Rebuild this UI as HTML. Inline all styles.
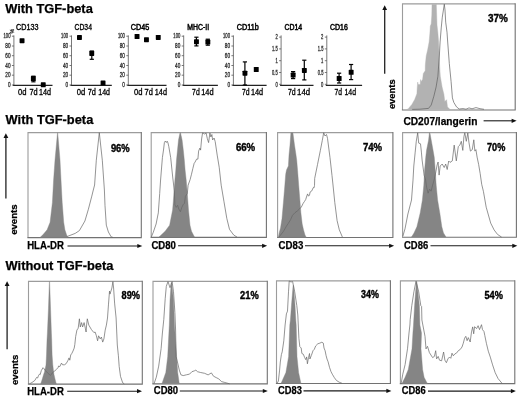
<!DOCTYPE html><html><head><meta charset="utf-8"><style>html,body{margin:0;padding:0;background:#fff;}svg{display:block;filter:grayscale(1) blur(0.3px);} text{font-family:"Liberation Sans", sans-serif;}</style></head><body>
<svg width="520" height="398" viewBox="0 0 520 398">
<rect width="520" height="398" fill="#fff"/>
<text x="5.2" y="12.6" font-size="12.90" font-weight="bold" text-anchor="start" fill="#000" stroke="#000" stroke-width="0.25" textLength="87.6" lengthAdjust="spacingAndGlyphs">With TGF-beta</text>
<text x="5.6" y="123.6" font-size="12.90" font-weight="bold" text-anchor="start" fill="#000" stroke="#000" stroke-width="0.25" textLength="87.7" lengthAdjust="spacingAndGlyphs">With TGF-beta</text>
<text x="5.6" y="270.3" font-size="12.90" font-weight="bold" text-anchor="start" fill="#000" stroke="#000" stroke-width="0.25" textLength="107.8" lengthAdjust="spacingAndGlyphs">Without TGF-beta</text>
<text x="16.0" y="30.4" font-size="8.20" font-weight="normal" text-anchor="start" fill="#000" stroke="#000" stroke-width="0.35" textLength="22.4" lengthAdjust="spacingAndGlyphs">CD133</text>
<line x1="13.9" y1="35.4" x2="13.9" y2="85.4" stroke="#6a6a6a" stroke-width="0.9"/>
<line x1="12.9" y1="85.4" x2="52.5" y2="85.4" stroke="#222" stroke-width="1.1"/>
<line x1="11.9" y1="36.2" x2="13.9" y2="36.2" stroke="#555" stroke-width="0.8"/>
<text x="10.5" y="38.4" font-size="6.30" font-weight="normal" text-anchor="end" fill="#3a3a3a" stroke="#3a3a3a" stroke-width="0.35" textLength="7.0" lengthAdjust="spacingAndGlyphs">100</text>
<line x1="11.9" y1="46.0" x2="13.9" y2="46.0" stroke="#555" stroke-width="0.8"/>
<text x="10.5" y="48.2" font-size="6.30" font-weight="normal" text-anchor="end" fill="#3a3a3a" stroke="#3a3a3a" stroke-width="0.35" textLength="5.2" lengthAdjust="spacingAndGlyphs">80</text>
<line x1="11.9" y1="55.7" x2="13.9" y2="55.7" stroke="#555" stroke-width="0.8"/>
<text x="10.5" y="57.9" font-size="6.30" font-weight="normal" text-anchor="end" fill="#3a3a3a" stroke="#3a3a3a" stroke-width="0.35" textLength="5.2" lengthAdjust="spacingAndGlyphs">60</text>
<line x1="11.9" y1="65.5" x2="13.9" y2="65.5" stroke="#555" stroke-width="0.8"/>
<text x="10.5" y="67.7" font-size="6.30" font-weight="normal" text-anchor="end" fill="#3a3a3a" stroke="#3a3a3a" stroke-width="0.35" textLength="5.2" lengthAdjust="spacingAndGlyphs">40</text>
<line x1="11.9" y1="75.2" x2="13.9" y2="75.2" stroke="#555" stroke-width="0.8"/>
<text x="10.5" y="77.4" font-size="6.30" font-weight="normal" text-anchor="end" fill="#3a3a3a" stroke="#3a3a3a" stroke-width="0.35" textLength="5.2" lengthAdjust="spacingAndGlyphs">20</text>
<line x1="11.9" y1="85.0" x2="13.9" y2="85.0" stroke="#555" stroke-width="0.8"/>
<text x="10.5" y="87.2" font-size="6.30" font-weight="normal" text-anchor="end" fill="#3a3a3a" stroke="#3a3a3a" stroke-width="0.35" textLength="2.6" lengthAdjust="spacingAndGlyphs">0</text>
<rect x="19.6" y="38.2" width="4.9" height="5.0" rx="0.6" fill="#000"/>
<line x1="33.4" y1="76.2" x2="33.4" y2="81.8" stroke="#000" stroke-width="1.2"/>
<line x1="31.3" y1="76.2" x2="35.5" y2="76.2" stroke="#000" stroke-width="1.2"/>
<line x1="31.3" y1="81.8" x2="35.5" y2="81.8" stroke="#000" stroke-width="1.2"/>
<rect x="30.9" y="76.1" width="4.9" height="5.0" rx="0.6" fill="#000"/>
<rect x="40.8" y="82.3" width="4.9" height="5.0" rx="0.6" fill="#000"/>
<text x="18.1" y="95.3" font-size="8.40" font-weight="normal" text-anchor="start" fill="#000" stroke="#000" stroke-width="0.30" textLength="8.5" lengthAdjust="spacingAndGlyphs">0d</text>
<text x="29.5" y="95.3" font-size="8.40" font-weight="normal" text-anchor="start" fill="#000" stroke="#000" stroke-width="0.30" textLength="8.2" lengthAdjust="spacingAndGlyphs">7d</text>
<text x="39.1" y="95.3" font-size="8.40" font-weight="normal" text-anchor="start" fill="#000" stroke="#000" stroke-width="0.30" textLength="12.0" lengthAdjust="spacingAndGlyphs">14d</text>
<text transform="translate(14.4,33.6) rotate(-90)" font-size="5.2" fill="#333" stroke="#333" stroke-width="0.3">%</text>
<text x="74.6" y="30.4" font-size="8.20" font-weight="normal" text-anchor="start" fill="#000" stroke="#000" stroke-width="0.35" textLength="17.3" lengthAdjust="spacingAndGlyphs">CD34</text>
<line x1="71.5" y1="35.4" x2="71.5" y2="85.4" stroke="#6a6a6a" stroke-width="0.9"/>
<line x1="70.5" y1="85.4" x2="111.8" y2="85.4" stroke="#222" stroke-width="1.1"/>
<line x1="69.5" y1="36.2" x2="71.5" y2="36.2" stroke="#555" stroke-width="0.8"/>
<text x="68.1" y="38.4" font-size="6.30" font-weight="normal" text-anchor="end" fill="#3a3a3a" stroke="#3a3a3a" stroke-width="0.35" textLength="7.0" lengthAdjust="spacingAndGlyphs">100</text>
<line x1="69.5" y1="46.0" x2="71.5" y2="46.0" stroke="#555" stroke-width="0.8"/>
<text x="68.1" y="48.2" font-size="6.30" font-weight="normal" text-anchor="end" fill="#3a3a3a" stroke="#3a3a3a" stroke-width="0.35" textLength="5.2" lengthAdjust="spacingAndGlyphs">80</text>
<line x1="69.5" y1="55.7" x2="71.5" y2="55.7" stroke="#555" stroke-width="0.8"/>
<text x="68.1" y="57.9" font-size="6.30" font-weight="normal" text-anchor="end" fill="#3a3a3a" stroke="#3a3a3a" stroke-width="0.35" textLength="5.2" lengthAdjust="spacingAndGlyphs">60</text>
<line x1="69.5" y1="65.5" x2="71.5" y2="65.5" stroke="#555" stroke-width="0.8"/>
<text x="68.1" y="67.7" font-size="6.30" font-weight="normal" text-anchor="end" fill="#3a3a3a" stroke="#3a3a3a" stroke-width="0.35" textLength="5.2" lengthAdjust="spacingAndGlyphs">40</text>
<line x1="69.5" y1="75.2" x2="71.5" y2="75.2" stroke="#555" stroke-width="0.8"/>
<text x="68.1" y="77.4" font-size="6.30" font-weight="normal" text-anchor="end" fill="#3a3a3a" stroke="#3a3a3a" stroke-width="0.35" textLength="5.2" lengthAdjust="spacingAndGlyphs">20</text>
<line x1="69.5" y1="85.0" x2="71.5" y2="85.0" stroke="#555" stroke-width="0.8"/>
<text x="68.1" y="87.2" font-size="6.30" font-weight="normal" text-anchor="end" fill="#3a3a3a" stroke="#3a3a3a" stroke-width="0.35" textLength="2.6" lengthAdjust="spacingAndGlyphs">0</text>
<rect x="77.0" y="34.9" width="4.9" height="5.0" rx="0.6" fill="#000"/>
<line x1="91.8" y1="51.0" x2="91.8" y2="59.3" stroke="#000" stroke-width="1.2"/>
<line x1="89.7" y1="51.0" x2="93.9" y2="51.0" stroke="#000" stroke-width="1.2"/>
<line x1="89.7" y1="59.3" x2="93.9" y2="59.3" stroke="#000" stroke-width="1.2"/>
<rect x="89.3" y="50.9" width="4.9" height="5.0" rx="0.6" fill="#000"/>
<rect x="100.6" y="80.5" width="4.9" height="5.0" rx="0.6" fill="#000"/>
<text x="76.7" y="95.3" font-size="8.40" font-weight="normal" text-anchor="start" fill="#000" stroke="#000" stroke-width="0.30" textLength="8.5" lengthAdjust="spacingAndGlyphs">0d</text>
<text x="87.7" y="95.3" font-size="8.40" font-weight="normal" text-anchor="start" fill="#000" stroke="#000" stroke-width="0.30" textLength="8.2" lengthAdjust="spacingAndGlyphs">7d</text>
<text x="98.3" y="95.3" font-size="8.40" font-weight="normal" text-anchor="start" fill="#000" stroke="#000" stroke-width="0.30" textLength="11.7" lengthAdjust="spacingAndGlyphs">14d</text>
<text x="130.7" y="30.4" font-size="8.20" font-weight="normal" text-anchor="start" fill="#000" stroke="#000" stroke-width="0.50" textLength="18.5" lengthAdjust="spacingAndGlyphs">CD45</text>
<line x1="128.3" y1="35.4" x2="128.3" y2="85.4" stroke="#6a6a6a" stroke-width="0.9"/>
<line x1="127.3" y1="85.4" x2="166.5" y2="85.4" stroke="#222" stroke-width="1.1"/>
<line x1="126.3" y1="36.2" x2="128.3" y2="36.2" stroke="#555" stroke-width="0.8"/>
<text x="124.9" y="38.4" font-size="6.30" font-weight="normal" text-anchor="end" fill="#3a3a3a" stroke="#3a3a3a" stroke-width="0.35" textLength="7.0" lengthAdjust="spacingAndGlyphs">100</text>
<line x1="126.3" y1="46.0" x2="128.3" y2="46.0" stroke="#555" stroke-width="0.8"/>
<text x="124.9" y="48.2" font-size="6.30" font-weight="normal" text-anchor="end" fill="#3a3a3a" stroke="#3a3a3a" stroke-width="0.35" textLength="5.2" lengthAdjust="spacingAndGlyphs">80</text>
<line x1="126.3" y1="55.7" x2="128.3" y2="55.7" stroke="#555" stroke-width="0.8"/>
<text x="124.9" y="57.9" font-size="6.30" font-weight="normal" text-anchor="end" fill="#3a3a3a" stroke="#3a3a3a" stroke-width="0.35" textLength="5.2" lengthAdjust="spacingAndGlyphs">60</text>
<line x1="126.3" y1="65.5" x2="128.3" y2="65.5" stroke="#555" stroke-width="0.8"/>
<text x="124.9" y="67.7" font-size="6.30" font-weight="normal" text-anchor="end" fill="#3a3a3a" stroke="#3a3a3a" stroke-width="0.35" textLength="5.2" lengthAdjust="spacingAndGlyphs">40</text>
<line x1="126.3" y1="75.2" x2="128.3" y2="75.2" stroke="#555" stroke-width="0.8"/>
<text x="124.9" y="77.4" font-size="6.30" font-weight="normal" text-anchor="end" fill="#3a3a3a" stroke="#3a3a3a" stroke-width="0.35" textLength="5.2" lengthAdjust="spacingAndGlyphs">20</text>
<line x1="126.3" y1="85.0" x2="128.3" y2="85.0" stroke="#555" stroke-width="0.8"/>
<text x="124.9" y="87.2" font-size="6.30" font-weight="normal" text-anchor="end" fill="#3a3a3a" stroke="#3a3a3a" stroke-width="0.35" textLength="2.6" lengthAdjust="spacingAndGlyphs">0</text>
<rect x="134.6" y="34.0" width="4.9" height="5.0" rx="0.6" fill="#000"/>
<rect x="144.0" y="37.2" width="4.9" height="5.0" rx="0.6" fill="#000"/>
<rect x="155.8" y="34.9" width="4.9" height="5.0" rx="0.6" fill="#000"/>
<text x="134.0" y="95.3" font-size="8.40" font-weight="normal" text-anchor="start" fill="#000" stroke="#000" stroke-width="0.30" textLength="8.5" lengthAdjust="spacingAndGlyphs">0d</text>
<text x="144.6" y="95.3" font-size="8.40" font-weight="normal" text-anchor="start" fill="#000" stroke="#000" stroke-width="0.30" textLength="8.3" lengthAdjust="spacingAndGlyphs">7d</text>
<text x="154.8" y="95.3" font-size="8.40" font-weight="normal" text-anchor="start" fill="#000" stroke="#000" stroke-width="0.30" textLength="12.2" lengthAdjust="spacingAndGlyphs">14d</text>
<text x="187.3" y="30.4" font-size="8.20" font-weight="normal" text-anchor="start" fill="#000" stroke="#000" stroke-width="0.50" textLength="21.8" lengthAdjust="spacingAndGlyphs">MHC-II</text>
<line x1="183.7" y1="35.4" x2="183.7" y2="85.4" stroke="#6a6a6a" stroke-width="0.9"/>
<line x1="182.7" y1="85.4" x2="217.9" y2="85.4" stroke="#222" stroke-width="1.1"/>
<line x1="181.7" y1="36.2" x2="183.7" y2="36.2" stroke="#555" stroke-width="0.8"/>
<text x="180.3" y="38.4" font-size="6.30" font-weight="normal" text-anchor="end" fill="#3a3a3a" stroke="#3a3a3a" stroke-width="0.35" textLength="7.0" lengthAdjust="spacingAndGlyphs">100</text>
<line x1="181.7" y1="46.0" x2="183.7" y2="46.0" stroke="#555" stroke-width="0.8"/>
<text x="180.3" y="48.2" font-size="6.30" font-weight="normal" text-anchor="end" fill="#3a3a3a" stroke="#3a3a3a" stroke-width="0.35" textLength="5.2" lengthAdjust="spacingAndGlyphs">80</text>
<line x1="181.7" y1="55.7" x2="183.7" y2="55.7" stroke="#555" stroke-width="0.8"/>
<text x="180.3" y="57.9" font-size="6.30" font-weight="normal" text-anchor="end" fill="#3a3a3a" stroke="#3a3a3a" stroke-width="0.35" textLength="5.2" lengthAdjust="spacingAndGlyphs">60</text>
<line x1="181.7" y1="65.5" x2="183.7" y2="65.5" stroke="#555" stroke-width="0.8"/>
<text x="180.3" y="67.7" font-size="6.30" font-weight="normal" text-anchor="end" fill="#3a3a3a" stroke="#3a3a3a" stroke-width="0.35" textLength="5.2" lengthAdjust="spacingAndGlyphs">40</text>
<line x1="181.7" y1="75.2" x2="183.7" y2="75.2" stroke="#555" stroke-width="0.8"/>
<text x="180.3" y="77.4" font-size="6.30" font-weight="normal" text-anchor="end" fill="#3a3a3a" stroke="#3a3a3a" stroke-width="0.35" textLength="5.2" lengthAdjust="spacingAndGlyphs">20</text>
<line x1="181.7" y1="85.0" x2="183.7" y2="85.0" stroke="#555" stroke-width="0.8"/>
<text x="180.3" y="87.2" font-size="6.30" font-weight="normal" text-anchor="end" fill="#3a3a3a" stroke="#3a3a3a" stroke-width="0.35" textLength="2.6" lengthAdjust="spacingAndGlyphs">0</text>
<line x1="196.4" y1="37.2" x2="196.4" y2="45.9" stroke="#000" stroke-width="1.2"/>
<line x1="194.3" y1="37.2" x2="198.5" y2="37.2" stroke="#000" stroke-width="1.2"/>
<line x1="194.3" y1="45.9" x2="198.5" y2="45.9" stroke="#000" stroke-width="1.2"/>
<rect x="194.0" y="39.2" width="4.9" height="5.0" rx="0.6" fill="#000"/>
<line x1="207.8" y1="39.2" x2="207.8" y2="45.2" stroke="#000" stroke-width="1.2"/>
<line x1="205.7" y1="39.2" x2="209.9" y2="39.2" stroke="#000" stroke-width="1.2"/>
<line x1="205.7" y1="45.2" x2="209.9" y2="45.2" stroke="#000" stroke-width="1.2"/>
<rect x="205.4" y="39.6" width="4.9" height="5.0" rx="0.6" fill="#000"/>
<text x="192.1" y="95.3" font-size="8.40" font-weight="normal" text-anchor="start" fill="#000" stroke="#000" stroke-width="0.30" textLength="7.6" lengthAdjust="spacingAndGlyphs">7d</text>
<text x="201.2" y="95.3" font-size="8.40" font-weight="normal" text-anchor="start" fill="#000" stroke="#000" stroke-width="0.30" textLength="12.4" lengthAdjust="spacingAndGlyphs">14d</text>
<text x="236.7" y="30.4" font-size="8.20" font-weight="normal" text-anchor="start" fill="#000" stroke="#000" stroke-width="0.50" textLength="22.0" lengthAdjust="spacingAndGlyphs">CD11b</text>
<line x1="233.4" y1="35.4" x2="233.4" y2="85.4" stroke="#6a6a6a" stroke-width="0.9"/>
<line x1="232.4" y1="85.4" x2="266.6" y2="85.4" stroke="#222" stroke-width="1.1"/>
<line x1="231.4" y1="36.2" x2="233.4" y2="36.2" stroke="#555" stroke-width="0.8"/>
<text x="230.0" y="38.4" font-size="6.30" font-weight="normal" text-anchor="end" fill="#3a3a3a" stroke="#3a3a3a" stroke-width="0.35" textLength="7.0" lengthAdjust="spacingAndGlyphs">100</text>
<line x1="231.4" y1="46.0" x2="233.4" y2="46.0" stroke="#555" stroke-width="0.8"/>
<text x="230.0" y="48.2" font-size="6.30" font-weight="normal" text-anchor="end" fill="#3a3a3a" stroke="#3a3a3a" stroke-width="0.35" textLength="5.2" lengthAdjust="spacingAndGlyphs">80</text>
<line x1="231.4" y1="55.7" x2="233.4" y2="55.7" stroke="#555" stroke-width="0.8"/>
<text x="230.0" y="57.9" font-size="6.30" font-weight="normal" text-anchor="end" fill="#3a3a3a" stroke="#3a3a3a" stroke-width="0.35" textLength="5.2" lengthAdjust="spacingAndGlyphs">60</text>
<line x1="231.4" y1="65.5" x2="233.4" y2="65.5" stroke="#555" stroke-width="0.8"/>
<text x="230.0" y="67.7" font-size="6.30" font-weight="normal" text-anchor="end" fill="#3a3a3a" stroke="#3a3a3a" stroke-width="0.35" textLength="5.2" lengthAdjust="spacingAndGlyphs">40</text>
<line x1="231.4" y1="75.2" x2="233.4" y2="75.2" stroke="#555" stroke-width="0.8"/>
<text x="230.0" y="77.4" font-size="6.30" font-weight="normal" text-anchor="end" fill="#3a3a3a" stroke="#3a3a3a" stroke-width="0.35" textLength="5.2" lengthAdjust="spacingAndGlyphs">20</text>
<line x1="231.4" y1="85.0" x2="233.4" y2="85.0" stroke="#555" stroke-width="0.8"/>
<text x="230.0" y="87.2" font-size="6.30" font-weight="normal" text-anchor="end" fill="#3a3a3a" stroke="#3a3a3a" stroke-width="0.35" textLength="2.6" lengthAdjust="spacingAndGlyphs">0</text>
<line x1="244.9" y1="61.9" x2="244.9" y2="85.0" stroke="#000" stroke-width="1.2"/>
<line x1="242.8" y1="61.9" x2="247.0" y2="61.9" stroke="#000" stroke-width="1.2"/>
<line x1="242.8" y1="85.0" x2="247.0" y2="85.0" stroke="#000" stroke-width="1.2"/>
<rect x="242.5" y="70.7" width="4.9" height="5.0" rx="0.6" fill="#000"/>
<rect x="253.8" y="67.0" width="4.9" height="5.0" rx="0.6" fill="#000"/>
<text x="242.0" y="95.3" font-size="8.40" font-weight="normal" text-anchor="start" fill="#000" stroke="#000" stroke-width="0.30" textLength="7.6" lengthAdjust="spacingAndGlyphs">7d</text>
<text x="250.9" y="95.3" font-size="8.40" font-weight="normal" text-anchor="start" fill="#000" stroke="#000" stroke-width="0.30" textLength="12.2" lengthAdjust="spacingAndGlyphs">14d</text>
<text x="284.5" y="30.4" font-size="8.20" font-weight="normal" text-anchor="start" fill="#000" stroke="#000" stroke-width="0.50" textLength="17.7" lengthAdjust="spacingAndGlyphs">CD14</text>
<line x1="281.1" y1="35.4" x2="281.1" y2="85.4" stroke="#6a6a6a" stroke-width="0.9"/>
<line x1="280.1" y1="85.4" x2="313.5" y2="85.4" stroke="#222" stroke-width="1.1"/>
<line x1="279.1" y1="37.1" x2="281.1" y2="37.1" stroke="#555" stroke-width="0.8"/>
<text x="277.7" y="39.3" font-size="6.30" font-weight="normal" text-anchor="end" fill="#3a3a3a" stroke="#3a3a3a" stroke-width="0.35" textLength="2.3" lengthAdjust="spacingAndGlyphs">2</text>
<line x1="279.1" y1="48.9" x2="281.1" y2="48.9" stroke="#555" stroke-width="0.8"/>
<text x="277.7" y="51.1" font-size="6.30" font-weight="normal" text-anchor="end" fill="#3a3a3a" stroke="#3a3a3a" stroke-width="0.35" textLength="5.6" lengthAdjust="spacingAndGlyphs">1.5</text>
<line x1="279.1" y1="60.7" x2="281.1" y2="60.7" stroke="#555" stroke-width="0.8"/>
<text x="277.7" y="62.9" font-size="6.30" font-weight="normal" text-anchor="end" fill="#3a3a3a" stroke="#3a3a3a" stroke-width="0.35" textLength="2.3" lengthAdjust="spacingAndGlyphs">1</text>
<line x1="279.1" y1="72.5" x2="281.1" y2="72.5" stroke="#555" stroke-width="0.8"/>
<text x="277.7" y="74.7" font-size="6.30" font-weight="normal" text-anchor="end" fill="#3a3a3a" stroke="#3a3a3a" stroke-width="0.35" textLength="5.6" lengthAdjust="spacingAndGlyphs">0.5</text>
<line x1="279.1" y1="84.3" x2="281.1" y2="84.3" stroke="#555" stroke-width="0.8"/>
<text x="277.7" y="86.5" font-size="6.30" font-weight="normal" text-anchor="end" fill="#3a3a3a" stroke="#3a3a3a" stroke-width="0.35" textLength="2.3" lengthAdjust="spacingAndGlyphs">0</text>
<line x1="293.1" y1="71.6" x2="293.1" y2="78.6" stroke="#000" stroke-width="1.2"/>
<line x1="291.0" y1="71.6" x2="295.2" y2="71.6" stroke="#000" stroke-width="1.2"/>
<line x1="291.0" y1="78.6" x2="295.2" y2="78.6" stroke="#000" stroke-width="1.2"/>
<rect x="290.7" y="72.6" width="4.9" height="5.0" rx="0.6" fill="#000"/>
<line x1="304.3" y1="60.2" x2="304.3" y2="79.9" stroke="#000" stroke-width="1.2"/>
<line x1="302.2" y1="60.2" x2="306.4" y2="60.2" stroke="#000" stroke-width="1.2"/>
<line x1="302.2" y1="79.9" x2="306.4" y2="79.9" stroke="#000" stroke-width="1.2"/>
<rect x="301.9" y="67.9" width="4.9" height="5.0" rx="0.6" fill="#000"/>
<text x="288.0" y="95.3" font-size="8.40" font-weight="normal" text-anchor="start" fill="#000" stroke="#000" stroke-width="0.30" textLength="7.7" lengthAdjust="spacingAndGlyphs">7d</text>
<text x="297.1" y="95.3" font-size="8.40" font-weight="normal" text-anchor="start" fill="#000" stroke="#000" stroke-width="0.30" textLength="13.0" lengthAdjust="spacingAndGlyphs">14d</text>
<text x="330.1" y="30.4" font-size="8.20" font-weight="normal" text-anchor="start" fill="#000" stroke="#000" stroke-width="0.50" textLength="17.7" lengthAdjust="spacingAndGlyphs">CD16</text>
<line x1="326.8" y1="35.4" x2="326.8" y2="85.4" stroke="#6a6a6a" stroke-width="0.9"/>
<line x1="325.8" y1="85.4" x2="362.1" y2="85.4" stroke="#222" stroke-width="1.1"/>
<line x1="324.8" y1="37.1" x2="326.8" y2="37.1" stroke="#555" stroke-width="0.8"/>
<text x="323.4" y="39.3" font-size="6.30" font-weight="normal" text-anchor="end" fill="#3a3a3a" stroke="#3a3a3a" stroke-width="0.35" textLength="2.3" lengthAdjust="spacingAndGlyphs">2</text>
<line x1="324.8" y1="48.9" x2="326.8" y2="48.9" stroke="#555" stroke-width="0.8"/>
<text x="323.4" y="51.1" font-size="6.30" font-weight="normal" text-anchor="end" fill="#3a3a3a" stroke="#3a3a3a" stroke-width="0.35" textLength="5.6" lengthAdjust="spacingAndGlyphs">1.5</text>
<line x1="324.8" y1="60.7" x2="326.8" y2="60.7" stroke="#555" stroke-width="0.8"/>
<text x="323.4" y="62.9" font-size="6.30" font-weight="normal" text-anchor="end" fill="#3a3a3a" stroke="#3a3a3a" stroke-width="0.35" textLength="2.3" lengthAdjust="spacingAndGlyphs">1</text>
<line x1="324.8" y1="72.5" x2="326.8" y2="72.5" stroke="#555" stroke-width="0.8"/>
<text x="323.4" y="74.7" font-size="6.30" font-weight="normal" text-anchor="end" fill="#3a3a3a" stroke="#3a3a3a" stroke-width="0.35" textLength="5.6" lengthAdjust="spacingAndGlyphs">0.5</text>
<line x1="324.8" y1="84.3" x2="326.8" y2="84.3" stroke="#555" stroke-width="0.8"/>
<text x="323.4" y="86.5" font-size="6.30" font-weight="normal" text-anchor="end" fill="#3a3a3a" stroke="#3a3a3a" stroke-width="0.35" textLength="2.3" lengthAdjust="spacingAndGlyphs">0</text>
<line x1="339.1" y1="73.2" x2="339.1" y2="83.0" stroke="#000" stroke-width="1.2"/>
<line x1="337.0" y1="73.2" x2="341.2" y2="73.2" stroke="#000" stroke-width="1.2"/>
<line x1="337.0" y1="83.0" x2="341.2" y2="83.0" stroke="#000" stroke-width="1.2"/>
<rect x="336.7" y="76.0" width="4.9" height="5.0" rx="0.6" fill="#000"/>
<line x1="351.1" y1="64.5" x2="351.1" y2="79.6" stroke="#000" stroke-width="1.2"/>
<line x1="349.0" y1="64.5" x2="353.2" y2="64.5" stroke="#000" stroke-width="1.2"/>
<line x1="349.0" y1="79.6" x2="353.2" y2="79.6" stroke="#000" stroke-width="1.2"/>
<rect x="348.7" y="69.8" width="4.9" height="5.0" rx="0.6" fill="#000"/>
<text x="334.4" y="95.3" font-size="8.40" font-weight="normal" text-anchor="start" fill="#000" stroke="#000" stroke-width="0.30" textLength="7.5" lengthAdjust="spacingAndGlyphs">7d</text>
<text x="344.5" y="95.3" font-size="8.40" font-weight="normal" text-anchor="start" fill="#000" stroke="#000" stroke-width="0.30" textLength="11.6" lengthAdjust="spacingAndGlyphs">14d</text>
<line x1="384.7" y1="8.3" x2="384.7" y2="73.8" stroke="#222" stroke-width="1.3"/>
<polygon points="382.3,9.9 384.7,5.3 387.1,9.9" fill="#111"/>
<text transform="translate(394.8,109.1) rotate(-90)" font-size="9.8" font-weight="bold" stroke="#000" stroke-width="0.25" textLength="29.7" lengthAdjust="spacingAndGlyphs">events</text>
<path d="M402.5 110.0V3.9H515.2" fill="none" stroke="#9c9c9c" stroke-width="1.1"/>
<path d="M515.2 3.3V110.0H401.9" fill="none" stroke="#727272" stroke-width="1.1"/>
<polygon points="432.0,4.2 431.8,15.0 431.2,24.0 430.3,26.0 429.9,33.0 429.1,42.0 427.6,50.0 426.2,56.0 425.3,65.0 425.2,70.8 423.3,73.6 422.6,79.4 421.2,81.5 420.6,79.5 420.2,84.5 418.3,84.5 417.7,82.0 417.2,88.0 416.9,93.7 414.7,99.4 411.9,104.4 408.3,108.7 406.8,109.6 450.2,109.6 447.5,106.9 446.6,99.7 444.8,101.5 443.9,94.2 442.1,87.0 440.3,76.2 439.4,61.7 438.6,42.0 437.8,32.0 437.0,25.0 436.6,12.0 436.3,4.2" fill="#b2b2b2" stroke="#b2b2b2" stroke-width="0.4"/>
<polyline points="412.2,109.4 420.0,109.2 428.5,108.4 431.2,105.1 433.9,96.1 436.1,87.0 437.9,76.2 439.4,55.0 440.1,42.0 441.3,27.1 442.3,17.1 443.1,12.0 444.3,4.2 445.0,10.0 445.7,22.1 447.0,32.2 447.7,42.0 449.3,63.5 451.1,81.6 452.4,97.9 453.8,102.4 456.5,106.9 459.2,109.0 463.0,108.6 466.0,109.2 469.0,107.9 472.0,108.8 476.0,107.6 480.0,108.7 484.0,109.3" fill="none" stroke="#606060" stroke-width="0.70" stroke-linejoin="round"/>
<text x="488.0" y="22.3" font-size="10.60" font-weight="bold" text-anchor="start" fill="#000" stroke="#000" stroke-width="0.40" textLength="19.8" lengthAdjust="spacingAndGlyphs">37%</text>
<text x="403.4" y="124.6" font-size="10.20" font-weight="bold" text-anchor="start" fill="#000" stroke="#000" stroke-width="0.25" textLength="74.0" lengthAdjust="spacingAndGlyphs">CD207/langerin</text>
<line x1="483.6" y1="120.8" x2="512.6" y2="120.8" stroke="#1a1a1a" stroke-width="1.1"/>
<polygon points="511.6,118.7 516.6,120.8 511.6,122.9" fill="#111"/>
<line x1="5.9" y1="136.3" x2="5.9" y2="198.6" stroke="#222" stroke-width="1.3"/>
<polygon points="3.5,137.9 5.9,133.3 8.3,137.9" fill="#111"/>
<text transform="translate(17.3,234.8) rotate(-90)" font-size="9.8" font-weight="bold" stroke="#000" stroke-width="0.25" textLength="30.4" lengthAdjust="spacingAndGlyphs">events</text>
<path d="M28.0 237.6V132.6H141.3" fill="none" stroke="#9c9c9c" stroke-width="1.1"/>
<path d="M141.3 132.0V237.6H27.4" fill="none" stroke="#727272" stroke-width="1.1"/>
<polygon points="57.5,132.8 55.0,160.0 53.6,180.0 52.4,202.6 50.1,222.2 47.1,229.8 43.3,234.3 40.3,237.3 67.5,237.3 66.4,234.3 64.9,229.8 63.7,222.2 62.2,202.6 61.0,180.0 60.0,160.0 57.7,132.8" fill="#858585" stroke="#858585" stroke-width="0.4"/>
<polyline points="66.9,236.6 75.2,233.4 79.4,230.6 84.9,221.0 88.4,209.2 91.8,196.1 93.3,190.0 94.6,185.0 96.3,160.2 99.3,132.7 102.3,160.2 104.4,190.0 105.0,205.7 106.3,225.1 108.4,232.0 111.2,236.9 113.0,237.4" fill="none" stroke="#666666" stroke-width="0.70" stroke-linejoin="round"/>
<text x="110.9" y="151.5" font-size="10.20" font-weight="bold" text-anchor="start" fill="#000" stroke="#000" stroke-width="0.40" textLength="18.8" lengthAdjust="spacingAndGlyphs">96%</text>
<text x="27.2" y="249.3" font-size="10.40" font-weight="bold" text-anchor="start" fill="#000" stroke="#000" stroke-width="0.25" textLength="36.8" lengthAdjust="spacingAndGlyphs">HLA-DR</text>
<line x1="67.5" y1="246.0" x2="138.3" y2="246.0" stroke="#1a1a1a" stroke-width="1.1"/>
<polygon points="137.3,243.9 142.3,246.0 137.3,248.1" fill="#111"/>
<path d="M151.2 237.4V132.6H266.4" fill="none" stroke="#9c9c9c" stroke-width="1.1"/>
<path d="M266.4 132.0V237.4H150.6" fill="none" stroke="#727272" stroke-width="1.1"/>
<polygon points="180.0,132.8 178.5,140.0 177.5,150.0 176.5,160.0 175.8,170.0 174.9,180.0 173.8,195.0 172.6,210.0 169.6,225.2 165.1,231.3 159.0,237.1 194.5,237.1 191.5,231.3 190.0,225.2 188.5,210.0 187.4,195.0 186.2,180.0 185.1,170.0 184.3,160.0 183.3,150.0 182.1,140.0 180.5,132.8" fill="#858585" stroke="#858585" stroke-width="0.4"/>
<polyline points="151.4,236.8 153.3,232.2 156.1,224.0 158.3,212.9 159.7,193.6 160.5,181.0 162.4,157.6 163.5,150.0 164.4,142.5 165.3,141.0 166.3,142.5 167.2,141.2 168.0,143.0 168.8,146.6 170.7,157.6 172.7,177.0 174.3,190.8 174.9,204.6 176.2,207.4 177.6,205.3 178.8,209.0 180.4,211.7 181.8,207.4 183.2,204.6 184.5,203.2 185.4,196.3 187.3,193.6 188.1,185.2 190.1,179.7 191.5,174.2 192.8,168.7 194.2,163.2 195.0,162.2 196.6,159.1 197.9,159.1 198.6,151.1 199.9,148.1 200.6,150.1 201.6,139.0 202.6,132.8 204.6,134.0 206.1,133.0 207.3,138.5 208.6,142.6 209.9,133.0 210.9,137.0 211.9,134.5 212.6,140.0 214.1,138.0 215.2,141.6 217.2,155.1 219.2,167.2 221.2,185.2 224.0,201.8 226.8,218.4 229.5,229.4 233.7,235.0 237.0,237.1" fill="none" stroke="#666666" stroke-width="0.70" stroke-linejoin="round"/>
<text x="235.9" y="151.0" font-size="10.20" font-weight="bold" text-anchor="start" fill="#000" stroke="#000" stroke-width="0.40" textLength="19.3" lengthAdjust="spacingAndGlyphs">66%</text>
<text x="151.4" y="249.0" font-size="10.40" font-weight="bold" text-anchor="start" fill="#000" stroke="#000" stroke-width="0.25" textLength="24.5" lengthAdjust="spacingAndGlyphs">CD80</text>
<line x1="178.1" y1="245.8" x2="263.1" y2="245.8" stroke="#1a1a1a" stroke-width="1.1"/>
<polygon points="262.1,243.7 267.1,245.8 262.1,247.9" fill="#111"/>
<path d="M277.6 237.5V132.6H392.9" fill="none" stroke="#9c9c9c" stroke-width="1.1"/>
<path d="M392.9 132.0V237.5H277.1" fill="none" stroke="#727272" stroke-width="1.1"/>
<polygon points="290.9,132.8 290.0,145.0 289.0,155.0 288.4,165.9 286.5,170.0 285.7,174.2 284.7,187.0 283.7,199.0 282.0,218.4 280.5,228.0 279.3,232.2 278.3,237.2 306.2,237.2 305.0,235.0 303.5,229.8 302.2,224.0 300.9,212.9 299.8,199.0 298.7,185.2 297.7,172.0 296.7,160.0 296.0,155.0 294.5,145.0 292.9,132.8" fill="#858585" stroke="#858585" stroke-width="0.4"/>
<polyline points="279.0,237.0 283.5,231.3 286.5,226.0 288.1,223.7 290.6,219.7 292.5,215.3 295.0,212.7 297.5,210.8 299.4,209.0 301.3,207.1 303.2,203.3 304.5,201.4 305.7,199.5 306.8,196.0 307.6,193.9 308.5,196.2 309.5,195.1 310.1,192.0 311.8,190.9 312.6,189.0 313.3,187.6 314.0,187.9 314.5,185.5 314.7,178.4 317.5,164.6 320.3,150.7 322.3,140.4 323.7,132.8 325.0,136.0 326.5,134.5 327.5,138.3 330.0,157.7 332.0,175.6 333.0,185.0 334.8,202.6 337.1,220.7 339.3,229.8 342.4,237.1" fill="none" stroke="#666666" stroke-width="0.70" stroke-linejoin="round"/>
<text x="362.9" y="150.6" font-size="10.20" font-weight="bold" text-anchor="start" fill="#000" stroke="#000" stroke-width="0.40" textLength="19.1" lengthAdjust="spacingAndGlyphs">74%</text>
<text x="278.6" y="249.0" font-size="10.40" font-weight="bold" text-anchor="start" fill="#000" stroke="#000" stroke-width="0.25" textLength="24.7" lengthAdjust="spacingAndGlyphs">CD83</text>
<line x1="305.0" y1="245.8" x2="390.1" y2="245.8" stroke="#1a1a1a" stroke-width="1.1"/>
<polygon points="389.1,243.7 394.1,245.8 389.1,247.9" fill="#111"/>
<path d="M402.6 237.3V132.6H516.4" fill="none" stroke="#9c9c9c" stroke-width="1.1"/>
<path d="M516.4 132.0V237.3H402.1" fill="none" stroke="#727272" stroke-width="1.1"/>
<polygon points="429.4,132.8 428.6,140.0 426.6,150.0 425.7,157.6 424.6,170.0 423.8,185.2 422.4,200.0 420.2,212.9 416.9,226.7 414.0,233.0 411.5,237.1 446.0,237.1 443.5,233.0 441.8,226.7 439.8,212.9 437.6,200.0 436.2,185.2 435.2,170.0 434.3,157.6 433.0,150.0 431.2,140.0 429.9,132.8" fill="#858585" stroke="#858585" stroke-width="0.4"/>
<polyline points="402.9,236.0 405.0,228.8 407.9,214.0 411.5,200.0 413.0,180.1 413.8,166.0 415.2,152.1 416.3,141.1 417.7,132.8 418.7,143.1 420.5,143.8 421.4,152.1 422.1,160.0 424.1,175.1 425.6,180.1 426.6,187.1 428.1,193.2 429.6,189.1 431.1,191.2 432.6,185.1 434.1,180.1 435.6,173.1 437.1,165.0 438.1,162.0 439.1,175.1 440.2,166.0 442.2,164.0 444.2,167.5 445.7,164.0 447.2,169.5 448.7,161.0 450.0,162.4 452.3,160.9 454.2,145.1 456.3,160.9 458.3,146.6 459.8,145.1 461.3,141.3 462.8,150.4 463.9,136.8 464.8,132.8 466.3,141.3 467.8,133.0 468.9,142.1 470.4,151.1 472.3,149.6 473.8,139.8 474.9,151.1 475.9,149.6 477.1,157.1 478.7,164.7 480.2,173.7 481.7,184.3 483.4,191.3 486.2,207.2 490.7,223.1 494.1,229.9 497.5,234.4 501.6,237.1" fill="none" stroke="#666666" stroke-width="0.70" stroke-linejoin="round"/>
<text x="487.0" y="150.5" font-size="10.20" font-weight="bold" text-anchor="start" fill="#000" stroke="#000" stroke-width="0.40" textLength="18.3" lengthAdjust="spacingAndGlyphs">70%</text>
<text x="404.0" y="249.1" font-size="10.40" font-weight="bold" text-anchor="start" fill="#000" stroke="#000" stroke-width="0.25" textLength="24.2" lengthAdjust="spacingAndGlyphs">CD86</text>
<line x1="430.5" y1="245.8" x2="513.3" y2="245.8" stroke="#1a1a1a" stroke-width="1.1"/>
<polygon points="512.3,243.7 517.3,245.8 512.3,247.9" fill="#111"/>
<line x1="7.1" y1="284.3" x2="7.1" y2="349.3" stroke="#222" stroke-width="1.3"/>
<polygon points="4.7,285.9 7.1,281.3 9.5,285.9" fill="#111"/>
<text transform="translate(18.4,385.0) rotate(-90)" font-size="9.8" font-weight="bold" stroke="#000" stroke-width="0.25" textLength="30.2" lengthAdjust="spacingAndGlyphs">events</text>
<path d="M28.5 384.1V281.4H142.3" fill="none" stroke="#9c9c9c" stroke-width="1.1"/>
<path d="M142.3 280.8V384.1H27.9" fill="none" stroke="#727272" stroke-width="1.1"/>
<polygon points="49.4,281.6 48.4,310.0 47.4,333.0 47.0,340.0 46.5,355.0 46.0,365.0 44.5,372.0 43.6,374.6 42.3,379.0 40.7,383.9 56.3,383.9 55.0,379.0 54.0,374.6 53.6,372.0 52.8,365.0 52.1,355.0 51.7,340.0 51.4,333.0 50.6,310.0 49.6,281.6" fill="#858585" stroke="#858585" stroke-width="0.4"/>
<polyline points="29.2,384.0 32.0,382.5 34.9,380.4 36.5,377.5 37.6,378.0 38.4,375.8 39.5,374.1 40.2,374.6 41.3,370.6 43.0,367.7 44.2,368.9 45.3,370.6 47.6,372.9 49.2,374.4 50.5,375.2 51.7,374.1 52.8,372.3 54.6,371.2 56.3,369.4 58.0,367.7 58.6,366.0 59.8,366.6 61.5,363.1 62.6,364.8 64.4,364.8 66.1,363.7 67.8,360.8 69.0,357.9 69.8,360.2 70.7,355.0 71.9,353.3 73.0,351.0 74.2,348.1 74.8,344.6 75.7,336.4 76.9,330.1 78.2,328.2 79.4,318.8 80.3,327.0 81.6,322.6 82.6,327.0 84.1,322.6 85.3,328.2 86.1,332.0 86.6,325.1 87.3,318.8 88.8,325.1 91.4,329.5 93.9,332.6 95.1,332.0 96.4,335.8 97.6,340.8 98.6,335.8 100.2,338.9 101.4,337.0 102.7,342.1 103.9,338.9 105.2,330.1 106.4,325.1 107.5,318.0 108.5,304.1 109.5,291.1 110.0,294.1 111.9,288.0 112.9,281.6 113.6,288.0 114.6,303.1 116.1,318.0 117.3,345.0 118.4,355.8 119.2,366.6 120.5,376.4 122.7,382.8 124.3,383.9" fill="none" stroke="#666666" stroke-width="0.70" stroke-linejoin="round"/>
<text x="121.6" y="299.0" font-size="10.00" font-weight="bold" text-anchor="start" fill="#000" stroke="#000" stroke-width="0.40" textLength="18.4" lengthAdjust="spacingAndGlyphs">89%</text>
<text x="27.2" y="395.0" font-size="10.40" font-weight="bold" text-anchor="start" fill="#000" stroke="#000" stroke-width="0.25" textLength="36.6" lengthAdjust="spacingAndGlyphs">HLA-DR</text>
<line x1="67.2" y1="391.2" x2="138.0" y2="391.2" stroke="#1a1a1a" stroke-width="1.1"/>
<polygon points="137.0,389.1 142.0,391.2 137.0,393.3" fill="#111"/>
<path d="M153.0 383.9V281.4H267.3" fill="none" stroke="#9c9c9c" stroke-width="1.1"/>
<path d="M267.3 280.8V383.9H152.4" fill="none" stroke="#727272" stroke-width="1.1"/>
<polygon points="171.2,282.8 170.0,300.0 169.3,325.0 167.7,356.6 165.8,372.5 161.9,383.8 179.3,383.8 177.7,372.5 176.6,356.6 174.5,325.0 173.5,300.0 171.6,282.8" fill="#858585" stroke="#858585" stroke-width="0.4"/>
<polyline points="154.0,383.8 156.3,377.2 158.7,366.1 161.1,348.7 162.4,333.0 163.8,319.4 165.2,298.7 166.3,286.3 168.0,281.6 170.0,287.7 172.1,281.6 173.5,291.8 174.9,312.5 175.6,330.0 176.1,356.6 177.7,363.0 179.3,370.1 180.9,374.8 183.2,375.6 186.4,374.8 189.6,374.1 191.9,371.7 194.3,370.9 195.9,370.1 197.5,371.7 200.6,372.5 204.6,373.3 208.1,374.9 211.4,372.9 213.5,376.2 216.2,377.6 218.8,378.9 221.5,381.6 224.2,382.3 229.6,383.8" fill="none" stroke="#666666" stroke-width="0.70" stroke-linejoin="round"/>
<text x="240.1" y="299.1" font-size="10.00" font-weight="bold" text-anchor="start" fill="#000" stroke="#000" stroke-width="0.40" textLength="18.6" lengthAdjust="spacingAndGlyphs">21%</text>
<text x="153.8" y="394.3" font-size="10.40" font-weight="bold" text-anchor="start" fill="#000" stroke="#000" stroke-width="0.25" textLength="24.3" lengthAdjust="spacingAndGlyphs">CD80</text>
<line x1="179.8" y1="391.0" x2="263.8" y2="391.0" stroke="#1a1a1a" stroke-width="1.1"/>
<polygon points="262.8,388.9 267.8,391.0 262.8,393.1" fill="#111"/>
<path d="M276.5 383.5V280.9H390.4" fill="none" stroke="#9c9c9c" stroke-width="1.1"/>
<path d="M390.4 280.3V383.5H275.9" fill="none" stroke="#727272" stroke-width="1.1"/>
<polygon points="293.1,285.5 291.5,305.0 290.4,320.0 289.8,325.0 288.6,356.7 285.9,372.5 281.1,383.3 300.9,383.3 298.6,372.5 297.0,356.7 296.2,325.0 295.8,320.0 295.0,305.0 293.5,285.5" fill="#858585" stroke="#858585" stroke-width="0.4"/>
<polyline points="277.2,383.2 278.4,381.0 279.6,370.1 280.3,362.0 281.4,354.5 282.2,351.9 283.8,340.8 285.1,325.0 286.4,313.9 287.5,311.1 288.5,291.8 289.2,281.0 291.0,282.0 292.6,281.5 294.7,291.8 296.8,305.6 297.8,315.0 298.5,330.0 298.9,338.3 299.8,346.6 301.2,348.0 301.9,353.5 303.3,354.2 304.7,357.6 305.8,359.7 306.7,356.9 307.4,363.8 308.5,357.6 309.5,353.5 309.9,359.0 311.3,355.6 313.0,350.7 314.3,349.3 315.7,345.9 317.8,343.8 319.9,343.1 321.9,342.2 323.3,343.1 324.0,348.0 325.1,350.7 326.1,355.6 327.0,359.0 328.1,361.8 329.5,367.3 330.9,371.4 332.3,374.2 334.4,377.7 336.4,380.4 339.2,382.2 342.0,383.3" fill="none" stroke="#666666" stroke-width="0.70" stroke-linejoin="round"/>
<text x="361.0" y="298.2" font-size="10.00" font-weight="bold" text-anchor="start" fill="#000" stroke="#000" stroke-width="0.40" textLength="17.8" lengthAdjust="spacingAndGlyphs">34%</text>
<text x="278.0" y="394.0" font-size="10.40" font-weight="bold" text-anchor="start" fill="#000" stroke="#000" stroke-width="0.25" textLength="23.9" lengthAdjust="spacingAndGlyphs">CD83</text>
<line x1="303.5" y1="390.9" x2="387.4" y2="390.9" stroke="#1a1a1a" stroke-width="1.1"/>
<polygon points="386.4,388.8 391.4,390.9 386.4,393.0" fill="#111"/>
<path d="M400.4 383.6V280.9H514.8" fill="none" stroke="#9c9c9c" stroke-width="1.1"/>
<path d="M514.8 280.3V383.6H399.8" fill="none" stroke="#727272" stroke-width="1.1"/>
<polygon points="416.4,281.6 414.6,305.6 413.5,325.0 412.9,333.0 412.0,348.8 408.3,369.4 405.1,377.3 402.0,383.4 427.3,383.4 424.1,377.3 422.6,369.4 421.0,348.8 421.5,333.0 419.9,325.0 419.4,305.6 416.8,281.6" fill="#858585" stroke="#858585" stroke-width="0.4"/>
<polyline points="401.2,383.2 402.8,374.1 405.1,364.6 407.5,348.8 409.0,333.0 409.9,325.0 410.2,319.4 411.8,305.6 413.9,291.8 416.0,281.2 418.7,291.8 420.8,305.6 421.6,306.5 421.9,320.0 423.8,330.0 425.0,336.3 426.0,348.9 427.5,346.3 429.4,352.6 432.6,357.6 434.4,356.4 435.7,350.7 436.6,358.9 438.2,356.4 439.5,360.2 441.6,360.8 443.6,352.0 444.9,360.2 446.4,362.7 447.9,358.9 449.5,357.0 450.8,358.3 452.0,353.2 453.3,355.8 454.9,353.9 456.4,353.2 458.3,350.7 460.2,349.5 462.0,347.0 463.3,343.2 464.6,338.2 465.8,336.3 467.1,340.7 468.3,337.6 470.2,342.0 471.5,331.9 472.7,326.9 473.7,333.8 474.6,326.7 476.6,328.6 478.1,325.7 479.5,329.6 481.5,324.7 482.5,329.6 484.0,331.6 484.8,335.5 486.4,343.3 488.3,351.2 490.3,357.1 492.6,364.9 495.2,372.7 498.1,378.6 502.1,383.4" fill="none" stroke="#666666" stroke-width="0.70" stroke-linejoin="round"/>
<text x="484.5" y="298.8" font-size="10.00" font-weight="bold" text-anchor="start" fill="#000" stroke="#000" stroke-width="0.40" textLength="18.4" lengthAdjust="spacingAndGlyphs">54%</text>
<text x="401.8" y="394.3" font-size="10.40" font-weight="bold" text-anchor="start" fill="#000" stroke="#000" stroke-width="0.25" textLength="23.9" lengthAdjust="spacingAndGlyphs">CD86</text>
<line x1="428.0" y1="391.1" x2="511.9" y2="391.1" stroke="#1a1a1a" stroke-width="1.1"/>
<polygon points="510.9,389.0 515.9,391.1 510.9,393.2" fill="#111"/>
</svg></body></html>
